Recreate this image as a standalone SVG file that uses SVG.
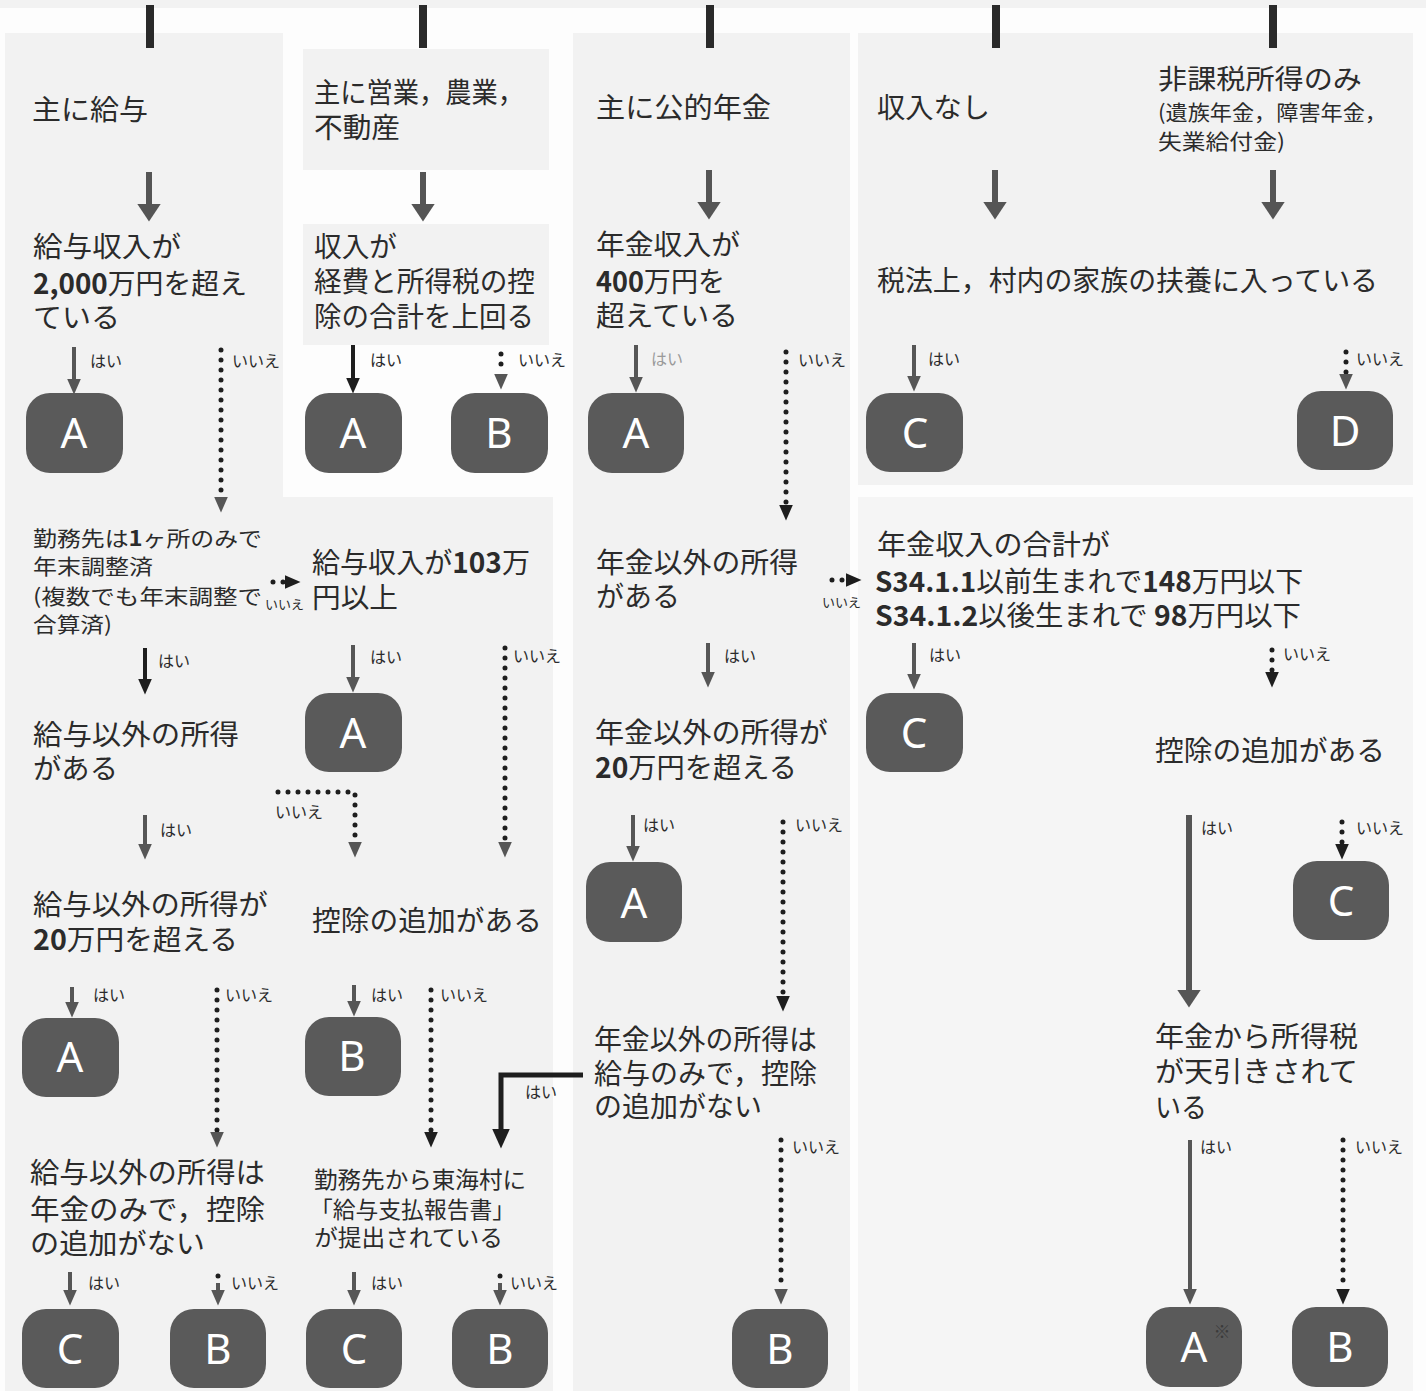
<svg xmlns="http://www.w3.org/2000/svg" width="1426" height="1391" viewBox="0 0 1426 1391">
<defs>
<style>
.pan{fill:#f2f2f2}
.t{font-family:"Noto Sans CJK JP","Noto Sans",sans-serif;fill:#2b2b2b}
.l{font-size:28px}
.s{font-size:16px}
.b{font-weight:700}
.node rect{fill:#5a5a5a}
.node text{font-family:"Noto Sans","DejaVu Sans",sans-serif;font-size:42px;fill:#fff;text-anchor:middle}
.big{stroke:#555;stroke-width:6;fill:none}
.g{stroke:#565656;stroke-width:4;fill:none}
.k{stroke:#1e1e1e;stroke-width:4;fill:none}
.d{stroke:#1e1e1e;stroke-width:5;stroke-linecap:round;stroke-dasharray:0 10;fill:none}
</style>
<marker id="mB" markerUnits="userSpaceOnUse" markerWidth="18" markerHeight="24" viewBox="0 0 18 24" refX="0.5" refY="12" orient="auto"><path d="M0,0 L18,12 L0,24 z" fill="#555"/></marker>
<marker id="mG" markerUnits="userSpaceOnUse" markerWidth="16" markerHeight="14" viewBox="0 0 16 14" refX="0.5" refY="7" orient="auto"><path d="M0,0 L16,7 L0,14 z" fill="#565656"/></marker>
<marker id="mK" markerUnits="userSpaceOnUse" markerWidth="16" markerHeight="14" viewBox="0 0 16 14" refX="0.5" refY="7" orient="auto"><path d="M0,0 L16,7 L0,14 z" fill="#1e1e1e"/></marker>
<marker id="mKB" markerUnits="userSpaceOnUse" markerWidth="20" markerHeight="18" viewBox="0 0 20 18" refX="0.5" refY="9" orient="auto"><path d="M0,0 L20,9 L0,18 z" fill="#1e1e1e"/></marker>
</defs>
<rect width="1426" height="1391" fill="#fdfdfd"/>
<rect x="0" y="0" width="1426" height="8" fill="#f2f2f2"/>
<g id="panels">
<rect class="pan" x="5" y="33" width="278" height="464"/>
<rect class="pan" x="5" y="497" width="548" height="894"/>
<rect class="pan" x="303" y="49" width="246" height="121"/>
<rect class="pan" x="303" y="224" width="246" height="121"/>
<rect class="pan" x="573" y="33" width="277" height="1358"/>
<rect class="pan" x="858" y="33" width="555" height="452"/>
<rect x="858" y="497" width="555" height="894" fill="#f5f5f5"/>
</g>
<g id="topbars" fill="#2a2a2a">
<rect x="146" y="5" width="8" height="43"/>
<rect x="419" y="5" width="8" height="43"/>
<rect x="706" y="5" width="8" height="43"/>
<rect x="992" y="5" width="8" height="43"/>
<rect x="1269" y="5" width="8" height="43"/>
</g>
<g id="connectors">
<line class="big" x1="149" y1="172" x2="149" y2="204" marker-end="url(#mB)"/>
<line class="big" x1="423" y1="172" x2="423" y2="204" marker-end="url(#mB)"/>
<line class="big" x1="709" y1="170" x2="709" y2="202" marker-end="url(#mB)"/>
<line class="big" x1="995" y1="170" x2="995" y2="202" marker-end="url(#mB)"/>
<line class="big" x1="1273" y1="170" x2="1273" y2="202" marker-end="url(#mB)"/>
<line class="g" x1="74" y1="347" x2="74" y2="379" marker-end="url(#mG)"/>
<line class="d" x1="221" y1="350" x2="221" y2="497" marker-end="url(#mG)"/>
<line class="k" x1="353" y1="345" x2="353" y2="378" marker-end="url(#mK)"/>
<line class="d" x1="501" y1="354" x2="501" y2="374" marker-end="url(#mG)"/>
<line class="g" x1="636" y1="345" x2="636" y2="377" marker-end="url(#mG)"/>
<line class="d" x1="786" y1="352" x2="786" y2="505" marker-end="url(#mK)"/>
<line class="g" x1="914" y1="345" x2="914" y2="376" marker-end="url(#mG)"/>
<line class="d" x1="1346" y1="352" x2="1346" y2="374" marker-end="url(#mG)"/>
<line class="d" x1="273" y1="582" x2="285" y2="582" marker-end="url(#mK)"/>
<line class="k" x1="145" y1="648" x2="145" y2="679" marker-end="url(#mK)"/>
<line class="g" x1="353" y1="645" x2="353" y2="677" marker-end="url(#mG)"/>
<line class="d" x1="505" y1="648" x2="505" y2="842" marker-end="url(#mG)"/>
<path class="d" d="M278,792 L355,792 L355,842" marker-end="url(#mG)"/>
<line class="g" x1="145" y1="815" x2="145" y2="844" marker-end="url(#mG)"/>
<line class="g" x1="708" y1="643" x2="708" y2="672" marker-end="url(#mG)"/>
<line class="d" x1="832" y1="580" x2="846" y2="580" marker-end="url(#mK)"/>
<line class="g" x1="914" y1="643" x2="914" y2="674" marker-end="url(#mG)"/>
<line class="d" x1="1272" y1="650" x2="1272" y2="672" marker-end="url(#mK)"/>
<line class="g" x1="633" y1="815" x2="633" y2="846" marker-end="url(#mG)"/>
<line class="d" x1="783" y1="822" x2="783" y2="996" marker-end="url(#mK)"/>
<line class="big" x1="1189" y1="815" x2="1189" y2="990" marker-end="url(#mB)"/>
<line class="d" x1="1342" y1="822" x2="1342" y2="844" marker-end="url(#mK)"/>
<line class="g" x1="72" y1="987" x2="72" y2="1002" marker-end="url(#mG)"/>
<line class="d" x1="217" y1="990" x2="217" y2="1132" marker-end="url(#mG)"/>
<line class="g" x1="354" y1="985" x2="354" y2="1001" marker-end="url(#mG)"/>
<line class="d" x1="431" y1="990" x2="431" y2="1132" marker-end="url(#mK)"/>
<path d="M583,1075 L501,1075 L501,1129" stroke="#1e1e1e" stroke-width="5" fill="none" marker-end="url(#mKB)"/>
<line class="g" x1="70" y1="1272" x2="70" y2="1290" marker-end="url(#mG)"/>
<circle cx="218" cy="1276" r="2.5" fill="#1e1e1e"/>
<line class="g" x1="218" y1="1283" x2="218" y2="1290" marker-end="url(#mG)"/>
<line class="g" x1="354" y1="1272" x2="354" y2="1290" marker-end="url(#mG)"/>
<circle cx="500" cy="1276" r="2.5" fill="#1e1e1e"/>
<line class="g" x1="500" y1="1283" x2="500" y2="1290" marker-end="url(#mG)"/>
<line class="d" x1="781" y1="1140" x2="781" y2="1289" marker-end="url(#mG)"/>
<line class="g" x1="1190" y1="1140" x2="1190" y2="1289" marker-end="url(#mG)"/>
<line class="d" x1="1343" y1="1140" x2="1343" y2="1289" marker-end="url(#mK)"/>
</g>
<g id="edge-labels" class="t s">
<text x="90" y="367">はい</text>
<text x="232" y="367">いいえ</text>
<text x="370" y="366">はい</text>
<text x="518" y="366">いいえ</text>
<text x="651" y="365" style="fill:#9a9a9a">はい</text>
<text x="798" y="366">いいえ</text>
<text x="928" y="365">はい</text>
<text x="1356" y="365">いいえ</text>
<text x="265" y="609" style="font-size:13px">いいえ</text>
<text x="158" y="667">はい</text>
<text x="370" y="663">はい</text>
<text x="513" y="662">いいえ</text>
<text x="275" y="818">いいえ</text>
<text x="160" y="836">はい</text>
<text x="724" y="662">はい</text>
<text x="822" y="607" style="font-size:13px">いいえ</text>
<text x="929" y="661">はい</text>
<text x="1283" y="660">いいえ</text>
<text x="643" y="831">はい</text>
<text x="795" y="831">いいえ</text>
<text x="1201" y="834">はい</text>
<text x="1356" y="834">いいえ</text>
<text x="93" y="1001">はい</text>
<text x="225" y="1001">いいえ</text>
<text x="371" y="1001">はい</text>
<text x="440" y="1001">いいえ</text>
<text x="525" y="1098">はい</text>
<text x="88" y="1289">はい</text>
<text x="231" y="1289">いいえ</text>
<text x="371" y="1289">はい</text>
<text x="510" y="1289">いいえ</text>
<text x="792" y="1153">いいえ</text>
<text x="1200" y="1153">はい</text>
<text x="1355" y="1153">いいえ</text>
</g>
<g id="q-c1-1" class="t l"><text x="32" y="120" textLength="116" lengthAdjust="spacingAndGlyphs">主に給与</text></g>
<g id="q-c1-2" class="t l"><text>
<tspan x="33" y="257" textLength="148" lengthAdjust="spacingAndGlyphs">給与収入が</tspan>
<tspan x="33" y="294" textLength="214" lengthAdjust="spacingAndGlyphs"><tspan class="b">2,000</tspan>万円を超え</tspan>
<tspan x="33" y="328" textLength="87" lengthAdjust="spacingAndGlyphs">ている</tspan>
</text></g>
<g id="q-c1-3" class="t" style="font-size:21px"><text>
<tspan x="33" y="546" textLength="229" lengthAdjust="spacingAndGlyphs">勤務先は<tspan class="b">1</tspan>ヶ所のみで</tspan>
<tspan x="33" y="574" textLength="120" lengthAdjust="spacingAndGlyphs">年末調整済</tspan>
<tspan x="33" y="604" textLength="229" lengthAdjust="spacingAndGlyphs">(複数でも年末調整で</tspan>
<tspan x="33" y="632" textLength="79" lengthAdjust="spacingAndGlyphs">合算済)</tspan>
</text></g>
<g id="q-c1-4" class="t l"><text>
<tspan x="33" y="745" textLength="206" lengthAdjust="spacingAndGlyphs">給与以外の所得</tspan>
<tspan x="33" y="779" textLength="85" lengthAdjust="spacingAndGlyphs">がある</tspan>
</text></g>
<g id="q-c1-5" class="t l"><text>
<tspan x="33" y="915" textLength="235" lengthAdjust="spacingAndGlyphs">給与以外の所得が</tspan>
<tspan x="33" y="950" textLength="205" lengthAdjust="spacingAndGlyphs"><tspan class="b">20</tspan>万円を超える</tspan>
</text></g>
<g id="q-c1-6" class="t l"><text>
<tspan x="30" y="1183" textLength="235" lengthAdjust="spacingAndGlyphs">給与以外の所得は</tspan>
<tspan x="30" y="1220" textLength="235" lengthAdjust="spacingAndGlyphs">年金のみで，控除</tspan>
<tspan x="30" y="1254" textLength="175" lengthAdjust="spacingAndGlyphs">の追加がない</tspan>
</text></g>
<g id="q-c2-1" class="t l"><text>
<tspan x="314" y="103" textLength="210" lengthAdjust="spacingAndGlyphs">主に営業，農業，</tspan>
<tspan x="314" y="138" textLength="86" lengthAdjust="spacingAndGlyphs">不動産</tspan>
</text></g>
<g id="q-c2-2" class="t l"><text>
<tspan x="314" y="257" textLength="83" lengthAdjust="spacingAndGlyphs">収入が</tspan>
<tspan x="314" y="292" textLength="221" lengthAdjust="spacingAndGlyphs">経費と所得税の控</tspan>
<tspan x="314" y="327" textLength="220" lengthAdjust="spacingAndGlyphs">除の合計を上回る</tspan>
</text></g>
<g id="q-c2-3" class="t l"><text>
<tspan x="312" y="573" textLength="218" lengthAdjust="spacingAndGlyphs">給与収入が<tspan class="b">103</tspan>万</tspan>
<tspan x="312" y="608" textLength="86" lengthAdjust="spacingAndGlyphs">円以上</tspan>
</text></g>
<g id="q-c2-4" class="t l"><text x="312" y="931" textLength="230" lengthAdjust="spacingAndGlyphs">控除の追加がある</text></g>
<g id="q-c2-5" class="t" style="font-size:23px"><text>
<tspan x="314" y="1188" textLength="212" lengthAdjust="spacingAndGlyphs">勤務先から東海村に</tspan>
<tspan x="310" y="1218" textLength="205" lengthAdjust="spacingAndGlyphs">「給与支払報告書」</tspan>
<tspan x="314" y="1246" textLength="189" lengthAdjust="spacingAndGlyphs">が提出されている</tspan>
</text></g>
<g id="q-c3-1" class="t l"><text x="596" y="118" textLength="175" lengthAdjust="spacingAndGlyphs">主に公的年金</text></g>
<g id="q-c3-2" class="t l"><text>
<tspan x="596" y="255" textLength="144" lengthAdjust="spacingAndGlyphs">年金収入が</tspan>
<tspan x="596" y="292" textLength="129" lengthAdjust="spacingAndGlyphs"><tspan class="b">400</tspan>万円を</tspan>
<tspan x="596" y="326" textLength="142" lengthAdjust="spacingAndGlyphs">超えている</tspan>
</text></g>
<g id="q-c3-3" class="t l"><text>
<tspan x="596" y="573" textLength="202" lengthAdjust="spacingAndGlyphs">年金以外の所得</tspan>
<tspan x="596" y="607" textLength="84" lengthAdjust="spacingAndGlyphs">がある</tspan>
</text></g>
<g id="q-c3-4" class="t l"><text>
<tspan x="595" y="743" textLength="233" lengthAdjust="spacingAndGlyphs">年金以外の所得が</tspan>
<tspan x="595" y="778" textLength="202" lengthAdjust="spacingAndGlyphs"><tspan class="b">20</tspan>万円を超える</tspan>
</text></g>
<g id="q-c3-5" class="t l"><text>
<tspan x="594" y="1050" textLength="223" lengthAdjust="spacingAndGlyphs">年金以外の所得は</tspan>
<tspan x="594" y="1084" textLength="223" lengthAdjust="spacingAndGlyphs">給与のみで，控除</tspan>
<tspan x="594" y="1117" textLength="168" lengthAdjust="spacingAndGlyphs">の追加がない</tspan>
</text></g>
<g id="q-c4-1" class="t l"><text x="877" y="118" textLength="113" lengthAdjust="spacingAndGlyphs">収入なし</text></g>
<g id="q-c4-2" class="t l"><text x="877" y="291" textLength="501" lengthAdjust="spacingAndGlyphs">税法上，村内の家族の扶養に入っている</text></g>
<g id="q-c4-3" class="t l"><text>
<tspan x="877" y="555" textLength="233" lengthAdjust="spacingAndGlyphs">年金収入の合計が</tspan>
<tspan x="875" y="592" textLength="428" lengthAdjust="spacingAndGlyphs"><tspan class="b">S34.1.1</tspan>以前生まれで<tspan class="b">148</tspan>万円以下</tspan>
<tspan x="875" y="626" textLength="426" lengthAdjust="spacingAndGlyphs"><tspan class="b">S34.1.2</tspan>以後生まれで <tspan class="b">98</tspan>万円以下</tspan>
</text></g>
<g id="q-c5-1" class="t"><text>
<tspan x="1158" y="89" style="font-size:27px" textLength="204" lengthAdjust="spacingAndGlyphs">非課税所得のみ</tspan>
<tspan x="1158" y="120" style="font-size:21px" textLength="229" lengthAdjust="spacingAndGlyphs">(遺族年金，障害年金，</tspan>
<tspan x="1158" y="149" style="font-size:21px" textLength="127" lengthAdjust="spacingAndGlyphs">失業給付金)</tspan>
</text></g>
<g id="q-c5-2" class="t l"><text x="1155" y="761" textLength="230" lengthAdjust="spacingAndGlyphs">控除の追加がある</text></g>
<g id="q-c5-3" class="t l"><text>
<tspan x="1155" y="1047" textLength="203" lengthAdjust="spacingAndGlyphs">年金から所得税</tspan>
<tspan x="1155" y="1082" textLength="203" lengthAdjust="spacingAndGlyphs">が天引きされて</tspan>
<tspan x="1155" y="1118" textLength="52" lengthAdjust="spacingAndGlyphs">いる</tspan>
</text></g>
<g id="n-r1-a1" class="node"><rect x="26" y="393" width="97" height="80" rx="24"/><text x="74" y="448">A</text></g>
<g id="n-r1-a2" class="node"><rect x="305" y="393" width="97" height="80" rx="24"/><text x="353" y="448">A</text></g>
<g id="n-r1-b1" class="node"><rect x="451" y="393" width="97" height="80" rx="24"/><text x="499" y="448">B</text></g>
<g id="n-r1-a3" class="node"><rect x="588" y="393" width="96" height="80" rx="24"/><text x="636" y="448">A</text></g>
<g id="n-r1-c1" class="node"><rect x="866" y="393" width="97" height="79" rx="24"/><text x="915" y="448">C</text></g>
<g id="n-r1-d" class="node"><rect x="1297" y="391" width="96" height="79" rx="24"/><text x="1345" y="446">D</text></g>
<g id="n-r2-a" class="node"><rect x="305" y="693" width="97" height="79" rx="24"/><text x="353" y="748">A</text></g>
<g id="n-r2-c" class="node"><rect x="866" y="693" width="97" height="79" rx="24"/><text x="914" y="748">C</text></g>
<g id="n-r2-a3" class="node"><rect x="586" y="862" width="96" height="80" rx="24"/><text x="634" y="918">A</text></g>
<g id="n-r2-c5" class="node"><rect x="1293" y="861" width="96" height="79" rx="24"/><text x="1341" y="916">C</text></g>
<g id="n-r3-a" class="node"><rect x="22" y="1018" width="97" height="79" rx="24"/><text x="70" y="1072">A</text></g>
<g id="n-r3-b" class="node"><rect x="305" y="1017" width="96" height="79" rx="24"/><text x="352" y="1071">B</text></g>
<g id="n-r4-c1" class="node"><rect x="22" y="1309" width="97" height="79" rx="24"/><text x="70" y="1364">C</text></g>
<g id="n-r4-b1" class="node"><rect x="170" y="1309" width="96" height="79" rx="24"/><text x="218" y="1364">B</text></g>
<g id="n-r4-c2" class="node"><rect x="306" y="1309" width="96" height="79" rx="24"/><text x="354" y="1364">C</text></g>
<g id="n-r4-b2" class="node"><rect x="452" y="1309" width="96" height="79" rx="24"/><text x="500" y="1364">B</text></g>
<g id="n-r4-b3" class="node"><rect x="732" y="1309" width="96" height="79" rx="24"/><text x="780" y="1364">B</text></g>
<g id="n-r4-a" class="node"><rect x="1146" y="1307" width="96" height="80" rx="24"/><text x="1194" y="1362">A</text><text x="1222" y="1338" style="font-family:'Noto Sans CJK JP',sans-serif;font-size:17px;fill:#3a3a3a">※</text></g>
<g id="n-r4-b4" class="node"><rect x="1292" y="1307" width="96" height="80" rx="24"/><text x="1340" y="1362">B</text></g>
</svg>
